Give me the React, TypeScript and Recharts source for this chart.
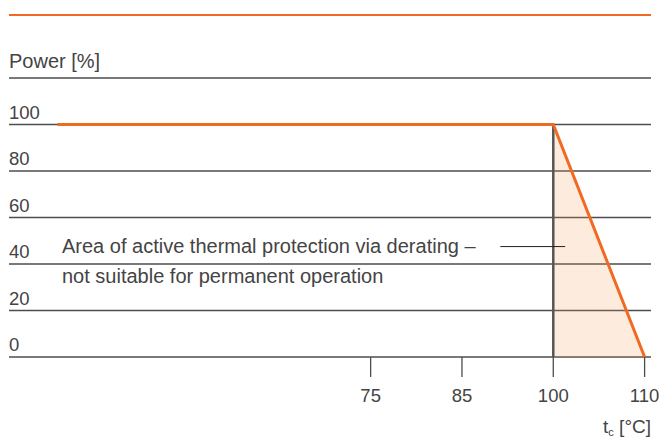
import { Area, CartesianGrid, ComposedChart, Line, ReferenceLine, XAxis, YAxis } from "recharts"

// derating curve: power vs case temperature
const curveTemp = [40.7, 100, 110]
const curvePower = [100, 100, 0]
// shaded derating zone
const zoneTemp = [100, 110]
const zonePower = [100, 0]

const xTicks = [75, 85, 100, 110]
const yTicks = [0, 20, 40, 60, 80, 100, 120]
const yTickLabels = ["0", "20", "40", "60", "80", "100", "Power [%]"]

// leader from the note into the zone
const leaderTemp = [91.3, 101.3]
const leaderPower = 47.5

const curveData = curveTemp.map((t, i) => ({ t, p: curvePower[i] }))
const zoneData = zoneTemp.map((t, i) => ({ t, p: zonePower[i] }))

const FONT = "'Liberation Sans', Arial, sans-serif"
const TEXT = "#444"
const ORANGE = "#f06a22"
const GRID = "#4d4d4d"

// schematic axis: tick values sit at equal steps, linear in between
function slotScale(knots: number[]) {
  let dom = [knots[0], knots[knots.length - 1]]
  let rng = [0, 1]
  const toSlot = (v: number) => {
    let i = 0
    while (i < knots.length - 2 && v > knots[i + 1]) i++
    return i + (v - knots[i]) / (knots[i + 1] - knots[i])
  }
  const s: any = (v: number) => {
    const a = toSlot(dom[0])
    const b = toSlot(dom[1])
    return rng[0] + ((toSlot(v) - a) / (b - a)) * (rng[1] - rng[0])
  }
  s.domain = (d?: number[]) => {
    if (d === undefined) return dom
    dom = [Number(d[0]), Number(d[1])]
    return s
  }
  s.range = (r?: number[]) => {
    if (r === undefined) return rng
    rng = [Number(r[0]), Number(r[1])]
    return s
  }
  s.copy = () => slotScale(knots).domain(dom).range(rng)
  s.ticks = () => knots.slice()
  return s
}

const xScale = slotScale(xTicks)

function XTick(props: any) {
  const { x, y, payload } = props
  return (
    <text x={x} y={y + 23} textAnchor="middle" fontSize={18.5} fontFamily={FONT} fill={TEXT}>
      {payload.value}
    </text>
  )
}

function YTick(props: any) {
  const { y, payload } = props
  const i = yTicks.indexOf(payload.value)
  const isTitle = payload.value === 120
  return (
    <text
      x={9}
      y={y - (isTitle ? 10 : 6)}
      textAnchor="start"
      fontSize={isTitle ? 20 : 18.5}
      fontFamily={FONT}
      fill={TEXT}
    >
      {yTickLabels[i]}
    </text>
  )
}

export default function App() {
  return (
    <div style={{ position: "absolute", left: 0, top: 0, width: 659, height: 439, background: "#fff" }}>
      <div style={{ position: "absolute", left: 9, top: 14, width: 642, height: 2, background: ORANGE }} />
      <ComposedChart width={659} height={439} margin={{ top: 78, right: 8, bottom: 0, left: 8 }}>
        <CartesianGrid vertical={false} stroke={GRID} strokeWidth={1.3} />
        <XAxis
          dataKey="t"
          type="number"
          scale={xScale}
          domain={[35.4, 110.7]}
          allowDataOverflow
          ticks={xTicks}
          interval={0}
          height={82}
          tickSize={20}
          axisLine={false}
          tickLine={{ stroke: GRID, strokeWidth: 1.3 }}
          tick={XTick}
        />
        <YAxis
          type="number"
          domain={[0, 120]}
          ticks={yTicks}
          interval={0}
          width={1}
          axisLine={false}
          tickLine={false}
          tick={YTick}
        />
        <Area
          data={zoneData}
          dataKey="p"
          type="linear"
          fill="#f5a05a"
          fillOpacity={0.2}
          stroke="none"
          isAnimationActive={false}
        />
        <ReferenceLine
          segment={[
            { x: 100, y: 0 },
            { x: 100, y: 100 },
          ]}
          stroke="#555"
          strokeWidth={2.5}
        />
        <ReferenceLine
          segment={[
            { x: leaderTemp[0], y: leaderPower },
            { x: leaderTemp[1], y: leaderPower },
          ]}
          stroke="#222"
          strokeWidth={1}
        />
        <Line
          data={curveData}
          dataKey="p"
          type="linear"
          stroke={ORANGE}
          strokeWidth={3}
          dot={false}
          isAnimationActive={false}
        />
      </ComposedChart>
      <svg width={659} height={439} style={{ position: "absolute", left: 0, top: 0, pointerEvents: "none" }}>
        <text x={62} y={253} fontSize={20} fontFamily={FONT} fill={TEXT}>
          Area of active thermal protection via derating –
        </text>
        <text x={62} y={283} fontSize={20} fontFamily={FONT} fill={TEXT}>
          not suitable for permanent operation
        </text>
        <text x={651} y={433} textAnchor="end" fontSize={19} fontFamily={FONT} fill={TEXT}>
          t
          <tspan fontSize={11} dy={3}>
            c
          </tspan>
          <tspan dy={-3}> [°C]</tspan>
        </text>
      </svg>
    </div>
  )
}
